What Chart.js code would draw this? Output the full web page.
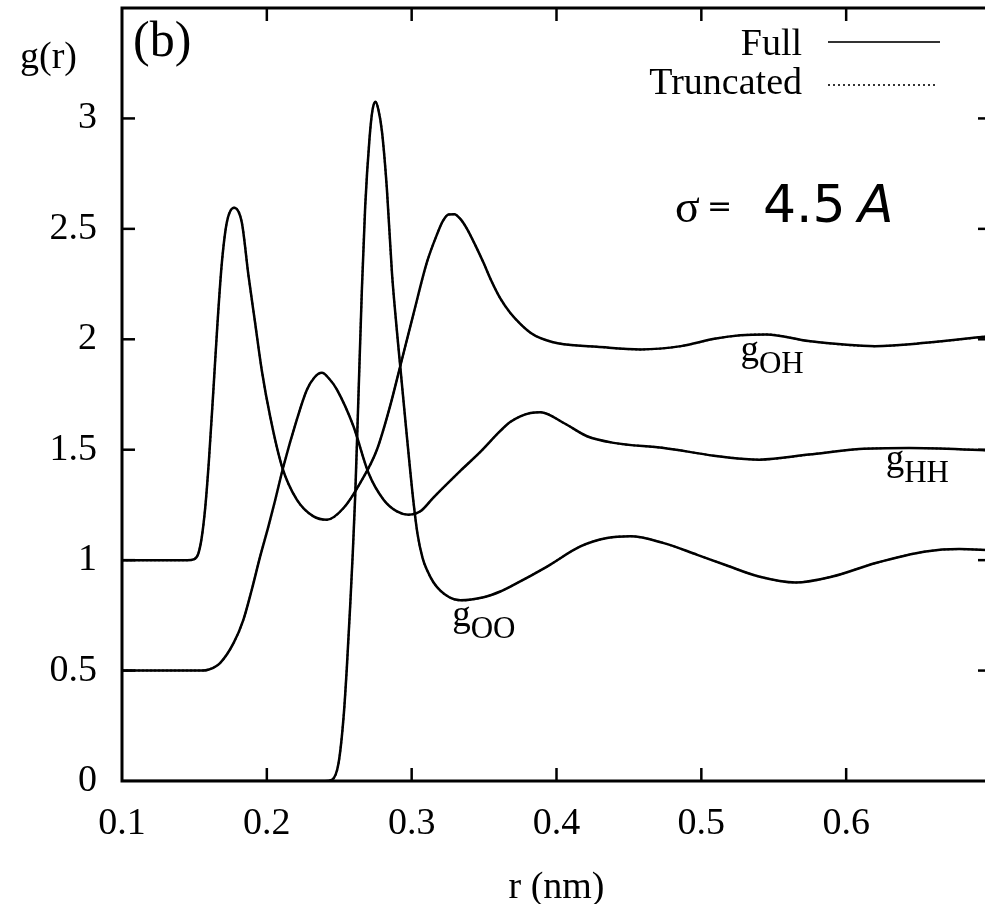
<!DOCTYPE html>
<html>
<head>
<meta charset="utf-8">
<script src="https://cdn.jsdelivr.net/npm/chart.js@4"></script>
<style>
  html, body { margin: 0; padding: 0; background: #fff; overflow: hidden; }
  #rdfCanvas { display: block; }
</style>
</head>
<body>
<canvas id="rdfCanvas" width="1000" height="904"></canvas>
<script>
// g(r) as plotted: gOH is shifted by +1, gHH by +0.5 in the figure
// full and truncated potentials overlap within the line width, so both use these values
const rOH = [0.100, 0.145, 0.150, 0.1527, 0.155, 0.1575, 0.160, 0.1631, 0.1659, 0.169, 0.1724, 0.1774, 0.1827, 0.1873, 0.1919, 0.1965, 0.2023, 0.2104, 0.2207, 0.2322, 0.2415, 0.253, 0.2645, 0.276, 0.2852, 0.2921, 0.3013, 0.3106, 0.3175, 0.3215, 0.3255, 0.3295, 0.3336, 0.3382, 0.344, 0.3497, 0.355, 0.3612, 0.368, 0.375, 0.382, 0.389, 0.397, 0.405, 0.428, 0.458, 0.486, 0.509, 0.527, 0.545, 0.574, 0.620, 0.655, 0.700];
const gOH = [1.00, 1.00, 1.005, 1.03, 1.10, 1.24, 1.45, 1.77, 2.07, 2.35, 2.53, 2.596, 2.53, 2.29, 2.075, 1.86, 1.65, 1.425, 1.274, 1.198, 1.183, 1.236, 1.35, 1.50, 1.70, 1.878, 2.116, 2.35, 2.475, 2.535, 2.565, 2.566, 2.545, 2.50, 2.425, 2.345, 2.265, 2.185, 2.12, 2.07, 2.03, 2.005, 1.988, 1.978, 1.966, 1.954, 1.969, 2.002, 2.018, 2.022, 1.992, 1.969, 1.984, 2.015];

const rHH = [0.100, 0.155, 0.160, 0.1677, 0.177, 0.1838, 0.1896, 0.1954, 0.2011, 0.2057, 0.2115, 0.2207, 0.2276, 0.2327, 0.238, 0.2432, 0.2484, 0.2598, 0.2702, 0.2806, 0.2898, 0.2979, 0.306, 0.315, 0.3336, 0.3474, 0.3612, 0.368, 0.375, 0.382, 0.389, 0.405, 0.4211, 0.4395, 0.4741, 0.5086, 0.530, 0.540, 0.5743, 0.6089, 0.6434, 0.700];
const gHH = [0.50, 0.50, 0.505, 0.534, 0.624, 0.73, 0.866, 1.017, 1.153, 1.27, 1.425, 1.636, 1.77, 1.826, 1.848, 1.82, 1.772, 1.606, 1.395, 1.274, 1.221, 1.206, 1.221, 1.283, 1.404, 1.49, 1.585, 1.625, 1.651, 1.666, 1.670, 1.621, 1.561, 1.531, 1.508, 1.473, 1.458, 1.455, 1.478, 1.503, 1.508, 1.497];

const rOO = [0.100, 0.240, 0.2449, 0.2495, 0.2530, 0.2553, 0.2576, 0.2594, 0.2610, 0.2633, 0.2656, 0.2679, 0.2709, 0.2730, 0.2750, 0.2770, 0.2795, 0.2829, 0.2864, 0.2895, 0.2921, 0.2967, 0.3013, 0.3040, 0.3075, 0.3106, 0.315, 0.3198, 0.326, 0.3336, 0.3497, 0.3612, 0.3704, 0.3935, 0.4165, 0.4349, 0.4511, 0.4741, 0.4972, 0.5167, 0.5397, 0.5651, 0.5905, 0.6204, 0.6549, 0.678, 0.700];
const gOO = [0, 0, 0.005, 0.08, 0.29, 0.52, 0.80, 1.04, 1.29, 1.75, 2.22, 2.60, 2.91, 3.04, 3.075, 3.04, 2.94, 2.68, 2.30, 2.06, 1.878, 1.56, 1.26, 1.12, 1.01, 0.955, 0.90, 0.862, 0.832, 0.818, 0.832, 0.858, 0.888, 0.971, 1.062, 1.100, 1.108, 1.077, 1.024, 0.978, 0.926, 0.899, 0.926, 0.987, 1.039, 1.050, 1.045];

const curveLabels = [
  { main: "g", sub: "OO", x: 0.328, y: 0.70 },
  { main: "g", sub: "OH", x: 0.527, y: 1.90 },
  { main: "g", sub: "HH", x: 0.6273, y: 1.41 },
];

const xMin = 0.1, xMax = 0.7, yMin = 0, yMax = 3.5;

const serif = '"Liberation Serif", "Times New Roman", serif';
const sans = '"DejaVu Sans", sans-serif';

const toXY = (xs, ys) => xs.map((x, i) => ({ x: x, y: ys[i] }));

function fullSet(xs, ys) {
  return {
    label: "Full",
    data: toXY(xs, ys),
    borderColor: "#000",
    borderWidth: 2.5,
    cubicInterpolationMode: "monotone",
    pointRadius: 0,
  };
}

function truncSet(xs, ys) {
  return {
    label: "Truncated",
    data: toXY(xs, ys),
    borderColor: "#333",
    borderWidth: 2,
    borderDash: [2, 2],
    cubicInterpolationMode: "monotone",
    pointRadius: 0,
  };
}

function line(ctx, x1, y1, x2, y2) {
  ctx.beginPath();
  ctx.moveTo(x1, y1);
  ctx.lineTo(x2, y2);
  ctx.stroke();
}

const frameAndTicks = {
  id: "frameAndTicks",
  afterDatasetsDraw(chart) {
    const { ctx, chartArea: a, scales } = chart;
    ctx.save();
    ctx.strokeStyle = "#000";
    ctx.lineWidth = 3;
    ctx.strokeRect(a.left, a.top, a.right - a.left, a.bottom - a.top);
    ctx.lineWidth = 2.5;
    const len = 13;
    scales.x.ticks.forEach((t) => {
      if (t.value <= xMin + 1e-9 || t.value >= xMax - 1e-9) return;
      const px = scales.x.getPixelForValue(t.value);
      line(ctx, px, a.bottom, px, a.bottom - len);
      line(ctx, px, a.top, px, a.top + len);
    });
    scales.y.ticks.forEach((t) => {
      if (t.value <= yMin + 1e-9 || t.value >= yMax - 1e-9) return;
      const py = scales.y.getPixelForValue(t.value);
      line(ctx, a.left, py, a.left + len, py);
      line(ctx, a.right, py, a.right - len, py);
    });
    ctx.restore();
  },
};

const annotations = {
  id: "annotations",
  afterDraw(chart) {
    const { ctx, scales } = chart;
    ctx.save();
    ctx.fillStyle = "#000";
    ctx.textBaseline = "alphabetic";

    // y axis title and panel tag
    ctx.textAlign = "left";
    ctx.font = "38px " + serif;
    ctx.fillText("g(r)", 20, 68);
    ctx.font = "50px " + serif;
    ctx.fillText("(b)", 133, 56);

    // curve names with subscripts
    curveLabels.forEach((l) => {
      const px = scales.x.getPixelForValue(l.x);
      const py = scales.y.getPixelForValue(l.y);
      ctx.font = "37px " + serif;
      ctx.fillText(l.main, px, py);
      const w = ctx.measureText(l.main).width;
      ctx.font = "31px " + serif;
      ctx.fillText(l.sub, px + w, py + 12);
    });

    // legend
    ctx.textAlign = "right";
    ctx.font = "38px " + serif;
    ctx.fillText("Full", 802, 55);
    ctx.fillText("Truncated", 802, 94);
    ctx.strokeStyle = "#333";
    ctx.lineWidth = 2;
    line(ctx, 828, 42, 940, 42);
    ctx.setLineDash([2, 3]);
    line(ctx, 828, 85, 937, 85);
    ctx.setLineDash([]);

    // sigma note
    ctx.textAlign = "left";
    ctx.font = "46px " + serif;
    ctx.fillText("\u03c3", 675, 222);
    ctx.font = "30px " + sans;
    ctx.fillText("=", 707, 216);
    ctx.font = "52px " + sans;
    ctx.fillText("4.5", 763, 222);
    ctx.font = "oblique 52px " + sans;
    ctx.fillText("A", 858, 222);
    ctx.restore();
  },
};

const rdfChart = new Chart(document.getElementById("rdfCanvas"), {
  type: "line",
  data: {
    datasets: [
      fullSet(rOO, gOO),
      fullSet(rOH, gOH),
      fullSet(rHH, gHH),
      truncSet(rOO, gOO),
      truncSet(rOH, gOH),
      truncSet(rHH, gHH),
    ],
  },
  options: {
    responsive: false,
    animation: false,
    devicePixelRatio: 1,
    layout: { padding: { top: 8, right: 9, left: 0, bottom: 0 } },
    plugins: {
      legend: { display: false },
      tooltip: { enabled: false },
    },
    scales: {
      x: {
        type: "linear",
        min: xMin,
        max: xMax,
        afterFit: (s) => {
          s.height = 123;
          s.paddingLeft = 0;
          s.paddingRight = 0;
        },
        grid: { display: false, drawTicks: false },
        border: { display: false },
        ticks: {
          stepSize: 0.1,
          padding: 20,
          color: "#000",
          maxRotation: 0,
          autoSkip: false,
          font: { family: serif, size: 38 },
          callback: (v) => (Math.abs(v - xMax) < 1e-6 ? "" : v.toFixed(1)),
        },
        title: {
          display: true,
          text: "r (nm)",
          color: "#000",
          font: { family: serif, size: 38, lineHeight: 0.8 },
          padding: { top: 0, bottom: 1 },
        },
      },
      y: {
        type: "linear",
        min: yMin,
        max: yMax,
        afterFit: (s) => {
          s.width = 122;
          s.paddingTop = 0;
          s.paddingBottom = 0;
        },
        grid: { display: false, drawTicks: false },
        border: { display: false },
        ticks: {
          stepSize: 0.5,
          padding: 25,
          color: "#000",
          font: { family: serif, size: 38 },
          callback: (v) => (v >= yMax - 1e-6 ? "" : String(v)),
        },
      },
    },
  },
  plugins: [frameAndTicks, annotations],
});
</script>
</body>
</html>
